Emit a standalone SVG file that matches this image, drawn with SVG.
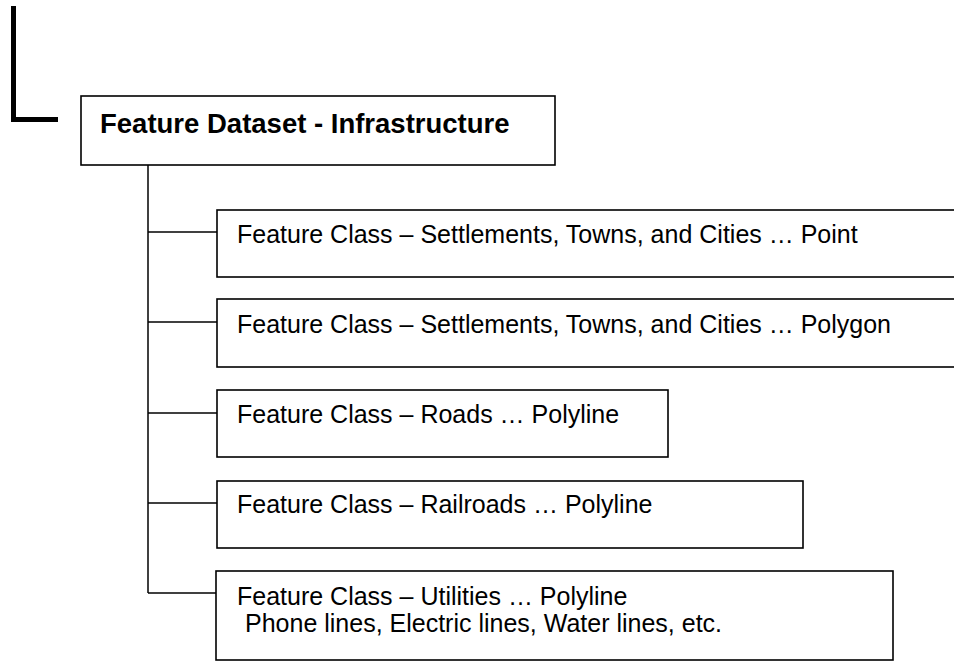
<svg xmlns="http://www.w3.org/2000/svg" width="954" height="662" viewBox="0 0 954 662">
<style>
.box{fill:#fff;stroke:#000;stroke-width:1.6}
.con{fill:none;stroke:#000;stroke-width:1.5}
.t{font-family:"Liberation Sans",Arial,sans-serif;font-size:25px;fill:#000}
.title{font-family:"Liberation Sans",Arial,sans-serif;font-size:27.5px;font-weight:bold;fill:#000}
</style>
<rect width="954" height="662" fill="#fff"/>
<path d="M13.5,6 V119.5 H58" fill="none" stroke="#000" stroke-width="5"/>
<g id="connectors">
<path class="con" d="M148,165 V593"/>
<path class="con" d="M148,232 H217"/>
<path class="con" d="M148,322 H217"/>
<path class="con" d="M148,413 H217"/>
<path class="con" d="M148,503 H217"/>
<path class="con" d="M148,593 H216"/>
</g>
<g id="dataset">
<rect class="box" x="81" y="96" width="474" height="69"/>
<text class="title" x="100" y="133">Feature Dataset - Infrastructure</text>
</g>
<g id="fc-point">
<rect class="box" x="217" y="210" width="750" height="67"/>
<text class="t" x="237" y="243">Feature Class – Settlements, Towns, and Cities … Point</text>
</g>
<g id="fc-polygon">
<rect class="box" x="217" y="299" width="750" height="68"/>
<text class="t" x="237" y="333">Feature Class – Settlements, Towns, and Cities … Polygon</text>
</g>
<g id="fc-roads">
<rect class="box" x="217" y="390" width="451" height="67"/>
<text class="t" x="237" y="423">Feature Class – Roads … Polyline</text>
</g>
<g id="fc-railroads">
<rect class="box" x="217" y="481" width="586" height="67"/>
<text class="t" x="237" y="513">Feature Class – Railroads … Polyline</text>
</g>
<g id="fc-utilities">
<rect class="box" x="216" y="571" width="677" height="89"/>
<text class="t" x="237" y="605">Feature Class – Utilities … Polyline</text>
<text class="t" x="245" y="632">Phone lines, Electric lines, Water lines, etc.</text>
</g>
</svg>
